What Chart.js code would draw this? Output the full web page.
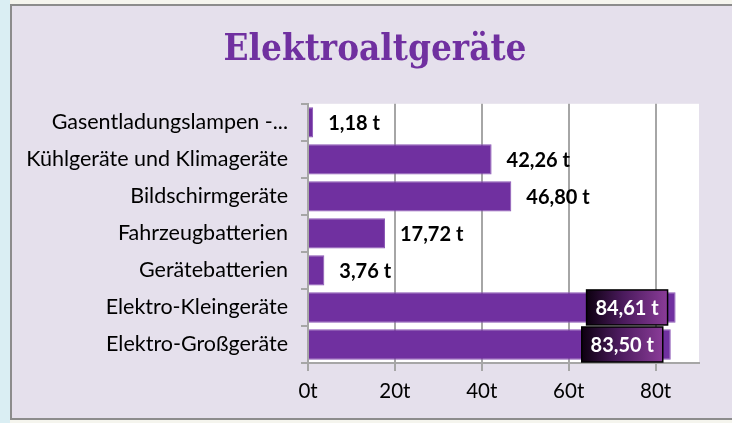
<!DOCTYPE html>
<html>
  <head>
    <title>Elektroaltgeräte</title>
    <script src="https://cdn.jsdelivr.net/npm/chart.js"></script>
    <style>
      body {
        margin: 0;
        background-color: #ffffff;
      }
      #wrap {
        position: relative;
        width: 732px;
        height: 423px;
      }
    </style>
  </head>
  <body>
    <div id="wrap">
      <canvas id="wasteChart" width="732" height="423"></canvas>
    </div>

    <script>
      // Data
      const categories = [
        "Gasentladungslampen -...",
        "Kühlgeräte und Klimageräte",
        "Bildschirmgeräte",
        "Fahrzeugbatterien",
        "Gerätebatterien",
        "Elektro-Kleingeräte",
        "Elektro-Großgeräte",
      ];
      const tonnes = [1.18, 42.26, 46.8, 17.72, 3.76, 84.61, 83.5];
      const valueLabels = ["1,18 t", "42,26 t", "46,80 t", "17,72 t", "3,76 t", "84,61 t", "83,50 t"];
      const insideLabel = [false, false, false, false, false, true, true];

      const purple = "#7030A0";
      const lavender = "#E5E0EC";
      const gridGrey = "#A6A6A6";
      const labelFont = "Lato, 'Open Sans', sans-serif";

      // frame, background and white plot area
      const frame = {
        id: "frame",
        afterLayout(chart) {
          // centre the title on the framed area, not the padded box
          chart.titleBlock.left = 18;
          chart.titleBlock.right = 732;
        },
        beforeDraw(chart) {
          const { ctx, chartArea: a } = chart;
          ctx.save();
          ctx.fillStyle = "#F5F5EE";
          ctx.fillRect(0, 0, 732, 423);
          ctx.fillStyle = "#DAEEF3";
          ctx.fillRect(0, 0, 10, 423);
          ctx.fillStyle = lavender;
          ctx.fillRect(10, 5, 722, 414);
          ctx.fillStyle = "#8C8C8C";
          ctx.fillRect(10, 4, 722, 2);
          ctx.fillRect(10, 418, 722, 2);
          ctx.fillRect(10, 4, 2, 416);
          ctx.fillStyle = "#ffffff";
          ctx.fillRect(a.left, a.top, a.right - a.left, a.bottom - a.top);
          ctx.restore();
        },
      };

      // value labels: outside the bar, or in a dark box at the bar end
      const valueTags = {
        id: "valueTags",
        afterDatasetsDraw(chart) {
          const { ctx } = chart;
          const meta = chart.getDatasetMeta(0);
          ctx.save();
          ctx.font = "bold 20px " + labelFont;
          ctx.textBaseline = "middle";
          meta.data.forEach((bar, i) => {
            const text = valueLabels[i];
            if (!insideLabel[i]) {
              ctx.fillStyle = "#000000";
              ctx.textAlign = "left";
              ctx.fillText(text, bar.x + 15, bar.y + 1);
              return;
            }
            const w = 81, h = 35;
            const x = bar.x - 8 - w, y = bar.y - h / 2;
            const g = ctx.createLinearGradient(x, 0, x + w, 0);
            g.addColorStop(0, "#0d0010");
            g.addColorStop(0.45, "#4a1a5c");
            g.addColorStop(1, "#8a3c98");
            ctx.fillStyle = g;
            ctx.fillRect(x, y, w, h);
            ctx.strokeStyle = "#000000";
            ctx.lineWidth = 1.5;
            ctx.strokeRect(x, y, w, h);
            ctx.fillStyle = "#ffffff";
            ctx.textAlign = "center";
            ctx.fillText(text, x + w / 2, bar.y + 1);
          });
          ctx.restore();
        },
      };

      new Chart(document.getElementById("wasteChart"), {
        type: "bar",
        data: {
          labels: categories,
          datasets: [
            {
              data: tonnes,
              backgroundColor: purple,
              borderColor: "#8a55b5",
              borderWidth: 1,
              categoryPercentage: 0.82,
              barPercentage: 1,
            },
          ],
        },
        options: {
          indexAxis: "y",
          responsive: false,
          animation: false,
          layout: { padding: { left: 12, right: 33, top: 0, bottom: 0 } },
          plugins: {
            legend: { display: false },
            tooltip: { enabled: false },
            title: {
              display: true,
              text: "Elektroaltgeräte",
              color: purple,
              font: { family: "'DejaVu Serif Condensed', 'DejaVu Serif', serif", size: 36.5, weight: "bold", lineHeight: 1.2 },
              padding: { top: 29, bottom: 31 },
            },
          },
          scales: {
            x: {
              min: 0,
              max: 90,
              afterFit: (s) => { s.height = 60; },
              border: { color: gridGrey, width: 2 },
              grid: { color: gridGrey, lineWidth: 2, tickLength: 8 },
              ticks: {
                stepSize: 20,
                includeBounds: false,
                color: "#000000",
                padding: 8,
                font: { family: labelFont, size: 20.5 },
                callback: (v) => v + "t",
              },
            },
            y: {
              afterFit: (s) => { s.width = 296; },
              border: { color: gridGrey, width: 2 },
              grid: { drawOnChartArea: false, color: gridGrey, lineWidth: 2, tickLength: 7 },
              ticks: {
                color: "#000000",
                padding: 13,
                font: { family: labelFont, size: 21.5 },
              },
            },
          },
        },
        plugins: [frame, valueTags],
      });
    </script>
  </body>
</html>
